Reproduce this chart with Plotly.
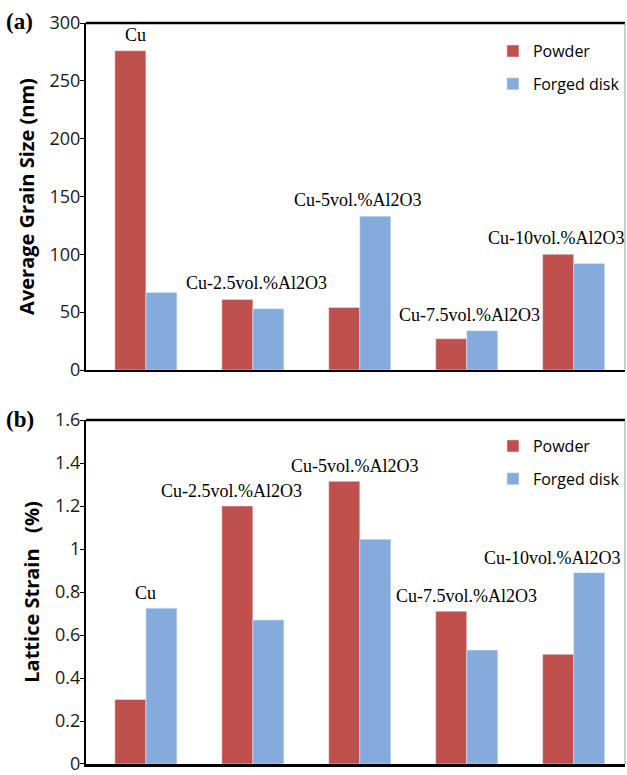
import plotly.graph_objects as go
from plotly.subplots import make_subplots

categories = ["Cu", "Cu-2.5vol.%Al2O3", "Cu-5vol.%Al2O3", "Cu-7.5vol.%Al2O3", "Cu-10vol.%Al2O3"]
grain_powder = [276, 61, 54, 27, 100]
grain_forged = [67, 53, 133, 34, 92]
strain_powder = [0.30, 1.20, 1.315, 0.71, 0.51]
strain_forged = [0.725, 0.67, 1.045, 0.53, 0.89]
grain_ticks = [0, 50, 100, 150, 200, 250, 300]
strain_ticks = [0, 0.2, 0.4, 0.6, 0.8, 1.0, 1.2, 1.4, 1.6]

RED = "#C0504D"
BLUE = "#85ABDC"
xs = list(range(len(categories)))

fig = make_subplots(rows=2, cols=1, vertical_spacing=0.067)

fig.add_trace(go.Bar(x=xs, y=grain_powder, name="Powder", marker_color=RED,
                     legend="legend", legendgroup="p1"), 1, 1)
fig.add_trace(go.Bar(x=xs, y=grain_forged, name="Forged disk", marker_color=BLUE,
                     legend="legend", legendgroup="f1"), 1, 1)
fig.add_trace(go.Bar(x=xs, y=strain_powder, name="Powder", marker_color=RED,
                     legend="legend2", legendgroup="p2"), 2, 1)
fig.add_trace(go.Bar(x=xs, y=strain_forged, name="Forged disk", marker_color=BLUE,
                     legend="legend2", legendgroup="f2"), 2, 1)

xr = [-0.56, 4.48]
for r in (1, 2):
    fig.update_xaxes(range=xr, showticklabels=False, ticks="", showline=True,
                     linecolor="black", linewidth=2 if r == 1 else 3, showgrid=False,
                     zeroline=False, row=r, col=1)
tick_font = dict(family="Open Sans", size=18, color="#1a1a1a")
title_font = dict(family="Open Sans", size=20, color="black")
common_y = dict(ticks="outside", ticklen=4, tickcolor="black", showline=True,
                linecolor="black", linewidth=2, showgrid=False, zeroline=False,
                tickfont=tick_font, ticklabelstandoff=-4, ticklabeloverflow="allow")
fig.update_yaxes(range=[0, 300], tickvals=grain_ticks, domain=[0.5317, 1.0],
                 title=dict(text="<b>Average Grain Size (nm)</b>", standoff=10, font=title_font),
                 row=1, col=1, **common_y)
fig.update_yaxes(range=[0, 1.6], tickvals=strain_ticks, domain=[0.0, 0.4642],
                 title=dict(text="<b>Lattice&nbsp;Strain&nbsp;&nbsp;&nbsp;(%)</b>", standoff=10,
                            font=title_font),
                 row=2, col=1, **common_y)

# frame: thick top line, thin grey right line
for xd, yd in (("x domain", "y domain"), ("x2 domain", "y2 domain")):
    fig.add_shape(type="line", xref=xd, yref=yd, x0=0, x1=1, y0=1, y1=1,
                  line=dict(color="black", width=2.5))
    fig.add_shape(type="line", xref=xd, yref=yd, x0=1, x1=1, y0=0, y1=1,
                  line=dict(color="#9a9a9a", width=1))

# category labels above bars
label_dx_a = [-10, 4, -2, 3, -17]
label_dx_b = [0, -21, -5, 0, -21]
label_font = dict(family="Liberation Serif", size=18, color="black")
for i, c in enumerate(categories):
    fig.add_annotation(x=xs[i], y=max(grain_powder[i], grain_forged[i]), xref="x", yref="y",
                       text=c, showarrow=False, yanchor="bottom", yshift=4,
                       xshift=label_dx_a[i], font=label_font)
    fig.add_annotation(x=xs[i], y=max(strain_powder[i], strain_forged[i]), xref="x2", yref="y2",
                       text=c, showarrow=False, yanchor="bottom", yshift=3,
                       xshift=label_dx_b[i], font=label_font)

# panel labels
fig.add_annotation(x=-0.152, y=1.0015, xref="paper", yref="paper", xanchor="left", yanchor="middle",
                   text="<b>(a)</b>", showarrow=False,
                   font=dict(family="Liberation Serif", size=23, color="black"))
fig.add_annotation(x=-0.152, y=0.4655, xref="paper", yref="paper", xanchor="left", yanchor="middle",
                   text="<b>(b)</b>", showarrow=False,
                   font=dict(family="Liberation Serif", size=23, color="black"))

leg_style = dict(font=dict(family="Open Sans", size=16, color="black"),
                 bgcolor="rgba(0,0,0,0)", xanchor="left", yanchor="top",
                 itemwidth=30, tracegroupgap=9)
fig.update_layout(
    width=627, height=775,
    margin=dict(l=86, r=2, t=23, b=11, autoexpand=False),
    paper_bgcolor="white", plot_bgcolor="white",
    barmode="group", bargap=0.42, bargroupgap=0,
    legend=dict(x=0.755, y=0.985, **leg_style),
    legend2=dict(x=0.755, y=0.452, **leg_style),
    showlegend=True,
)
fig.write_html("out.html")
